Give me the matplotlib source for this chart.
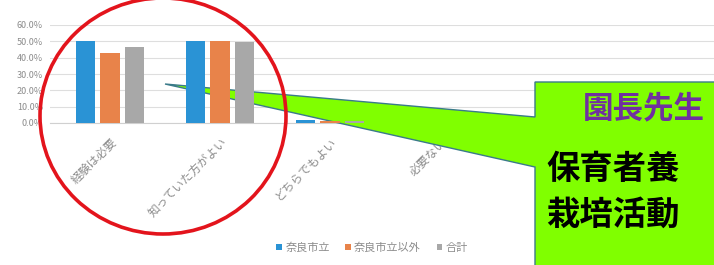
import numpy as np
import matplotlib
matplotlib.use("Agg")
import matplotlib.pyplot as plt
from matplotlib.patches import Polygon, Ellipse

plt.rcParams['font.family'] = ['Noto Sans CJK JP', 'DejaVu Sans']

# データ
categories = ['経験は必要', '知っていた方がよい', 'どちらでもよい', '必要ない']
nara_city = [0.50, 0.50, 0.02, 0.0]
nara_other = [0.43, 0.50, 0.01, 0.0]
total = [0.465, 0.495, 0.015, 0.0]
series_names = ['奈良市立', '奈良市立以外', '合計']
colors = ['#2a93d5', '#e8834a', '#a8a8a8']

W, H = 714, 265
fig = plt.figure(figsize=(W / 100, H / 100), dpi=100)
fig.patch.set_facecolor('white')

def fx(px):
    return px / W

def fy(py):
    return 1 - py / H

ax = fig.add_axes([fx(50), fy(123), fx(714) - fx(50), fy(25) - fy(123)])
ax.patch.set_alpha(0)

x = np.arange(len(categories))
w = 0.175
off = 0.225
for i, (vals, name) in enumerate(zip([nara_city, nara_other, total], series_names)):
    ax.bar(x + (i - 1) * off, vals, w, color=colors[i], label=name, zorder=4)

ax.set_ylim(0, 0.6)
ax.set_xlim(-0.545, 5.49)
ax.set_yticks(np.arange(0, 0.61, 0.1))
ax.set_yticklabels(['%.1f%%' % (v * 100) for v in np.arange(0, 0.61, 0.1)],
                   fontsize=6.5, color='#8c8c8c')
ax.set_xticks(x)
ax.set_xticklabels(categories, rotation=45, ha='right', rotation_mode='anchor',
                   fontsize=8.5, color='#8c8c8c')
ax.tick_params(axis='both', length=0)
ax.tick_params(axis='x', pad=9)
ax.tick_params(axis='y', pad=5)
ax.grid(axis='y', color='#dedede', linewidth=0.8, zorder=0)
ax.set_axisbelow(True)
for s in ['top', 'right', 'left']:
    ax.spines[s].set_visible(False)
ax.spines['bottom'].set_color('#d0d0d0')

fig.legend(loc='center', bbox_to_anchor=(fx(372), fy(248)), ncol=3, frameon=False,
           fontsize=8, handlelength=0.5, handleheight=0.5, handletextpad=0.3,
           columnspacing=1.4, labelcolor='#8c8c8c')

# 吹き出し
green = '#80ff00'
pts = [(165, 84), (535, 117), (535, 82), (760, 82), (760, 290), (535, 290), (535, 167)]
callout = Polygon([(fx(a), fy(b)) for a, b in pts], closed=True, transform=fig.transFigure,
                  facecolor=green, edgecolor='#3a7a8a', linewidth=1.0, zorder=3,
                  clip_on=False)
ax.add_patch(callout)

fig.text(fx(583), fy(108), '園長先生', fontsize=22, fontweight='bold', color='#7030a0',
         va='center', ha='left')
fig.text(fx(546), fy(170), '保育者養', fontsize=24, fontweight='bold', color='black',
         va='center', ha='left')
fig.text(fx(546), fy(215), '栽培活動', fontsize=24, fontweight='bold', color='black',
         va='center', ha='left')

# 赤い丸
circle = Ellipse((fx(163), fy(116)), fx(246), 236 / H, transform=fig.transFigure,
                 fill=False, edgecolor='#e3141c', linewidth=2.6, zorder=10, clip_on=False)
ax.add_patch(circle)

fig.savefig('out.png', dpi=100)
